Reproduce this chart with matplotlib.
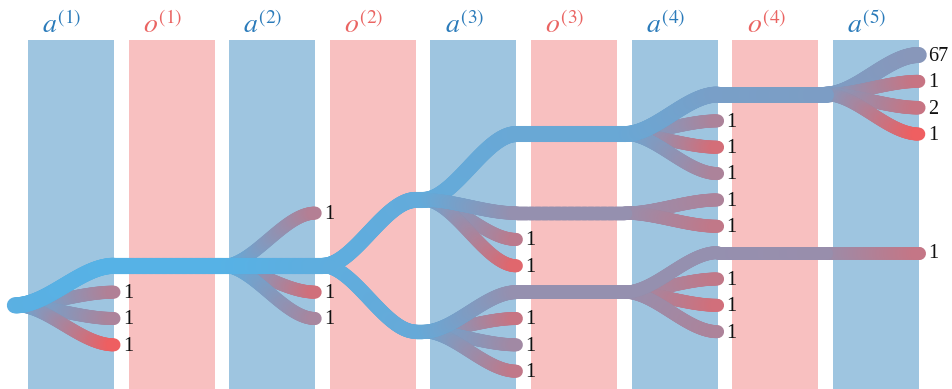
import numpy as np
import matplotlib.pyplot as plt
from matplotlib.collections import LineCollection
from matplotlib.patches import Rectangle

plt.rcParams['mathtext.fontset'] = 'stix'

# columns of the search tree: actions and observations alternate
column_labels = [r'$a^{(1)}$', r'$o^{(1)}$', r'$a^{(2)}$', r'$o^{(2)}$', r'$a^{(3)}$',
                 r'$o^{(3)}$', r'$a^{(4)}$', r'$o^{(4)}$', r'$a^{(5)}$']
column_kinds = ['a', 'o', 'a', 'o', 'a', 'o', 'a', 'o', 'a']

# tree nodes (index = node id); parent -1 is the root
parent = [-1,
          0, 0, 0, 0,
          1,
          5, 5, 5, 5,
          7, 7,
          10, 10, 10, 10,
          11, 11, 11, 11,
          12, 13, 16,
          20, 20, 20, 20,
          21, 21,
          22, 22, 22, 22,
          23, 29,
          33, 33, 33, 33,
          34]
depth = [0,
         1, 1, 1, 1,
         2,
         3, 3, 3, 3,
         4, 4,
         5, 5, 5, 5,
         5, 5, 5, 5,
         6, 6, 6,
         7, 7, 7, 7,
         7, 7,
         7, 7, 7, 7,
         8, 8,
         9, 9, 9, 9,
         9]
# vertical slot of each node
row = [9.5,
       8, 9, 10, 11,
       8,
       6, 8, 9, 10,
       5.5, 10.5,
       3, 6, 7, 8,
       9, 10, 11, 12,
       3, 6, 9,
       1.5, 2.5, 3.5, 4.5,
       5.5, 6.5,
       7.5, 8.5, 9.5, 10.5,
       1.5, 7.5,
       0, 1, 2, 3,
       7.5]
# node value mapped onto the blue (0) -> red (1) scale
value = [0.03,
         0.0, 0.58, 0.55, 0.97,
         0.0,
         0.6, 0.05, 0.78, 0.52,
         0.08, 0.1,
         0.12, 0.4, 0.65, 0.88,
         0.4, 0.72, 0.48, 0.68,
         0.12, 0.4, 0.4,
         0.22, 0.55, 0.8, 0.55,
         0.55, 0.68,
         0.4, 0.68, 0.78, 0.55,
         0.24, 0.42,
         0.32, 0.72, 0.72, 0.97,
         0.7]
# visit counts on the leaves
leaf_count = {2: 1, 3: 1, 4: 1, 6: 1, 8: 1, 9: 1, 14: 1, 15: 1, 17: 1, 18: 1,
              19: 1, 24: 1, 25: 1, 26: 1, 27: 1, 28: 1, 30: 1, 31: 1, 32: 1,
              35: 67, 36: 1, 37: 2, 38: 1, 39: 1}

blue = np.array([86, 178, 230]) / 255
red = np.array([244, 92, 92]) / 255
col_blue = '#9ec5e0'
col_pink = '#f8c0c0'
col_w = 0.855


def colour(t):
    return blue + (red - blue) * np.clip(t, 0, 1)


children = {i: [] for i in range(len(parent))}
for i, p in enumerate(parent):
    if p >= 0:
        children[p].append(i)


def count(i):
    if not children[i]:
        return leaf_count.get(i, 1)
    return sum(count(c) for c in children[i])


def node_x(i):
    return -0.13 if parent[i] < 0 else depth[i] - 0.07


fig = plt.figure(figsize=(9.52, 3.89), dpi=100)
ax = fig.add_axes([0, 0, 1, 1])
ax.set_xlim(-0.278, 9.185)
ax.set_ylim(12.675, -2.087)
ax.axis('off')

for k, (lab, kind) in enumerate(zip(column_labels, column_kinds)):
    ax.add_patch(Rectangle((k, -0.57), col_w, 14, color=col_blue if kind == 'a' else col_pink,
                           lw=0, zorder=0))
    ax.text(k + col_w / 2 - 0.09, -0.84, lab, ha='center', va='baseline', fontsize=20,
            color='#2b7bba' if kind == 'a' else '#ea6462', zorder=3)

s = np.linspace(0, 1, 80)
smooth = 3 * s ** 2 - 2 * s ** 3
leaf_edges = []
inner_edges = []
for i, p in enumerate(parent):
    if p < 0:
        continue
    d = depth[p]
    x0, x1 = node_x(p), d + col_w
    xs = x0 + (x1 - x0) * s
    ys = row[p] + (row[i] - row[p]) * smooth
    ts = value[p] + (value[i] - value[p]) * s
    if children[i]:
        xh = np.linspace(x1, node_x(i), 10)
        xs = np.concatenate([xs, xh])
        ys = np.concatenate([ys, np.full(10, row[i])])
        ts = np.concatenate([ts, np.full(10, value[i])])
    pts = np.column_stack([xs, ys])
    segs = np.stack([pts[:-1], pts[1:]], axis=1)
    cols = [colour(t) for t in (ts[:-1] + ts[1:]) / 2]
    lw = (13 + 0.7 * np.log(count(i))) * 0.72
    (inner_edges if children[i] else leaf_edges).append((segs, cols, lw))

for segs, cols, lw in leaf_edges + inner_edges:
    ax.add_collection(LineCollection(segs, colors=cols, linewidths=lw,
                                     capstyle='round', joinstyle='round', zorder=2))

for i, n in leaf_count.items():
    ax.text(depth[parent[i]] + col_w + 0.09, row[i] + 0.05, str(n), ha='left', va='center',
            fontsize=14.5, family='Liberation Serif', color='#111111', zorder=3)

fig.savefig('out.png', dpi=100)
